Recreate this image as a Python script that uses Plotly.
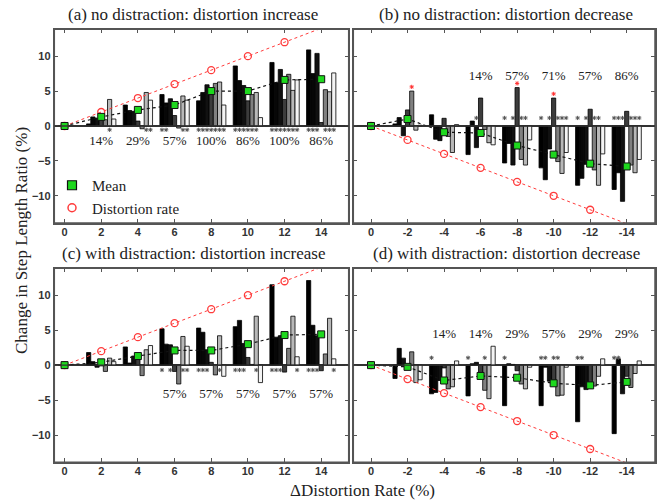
import plotly.graph_objects as go

# ---------------- data ----------------
rates_inc = [0, 2, 4, 6, 8, 10, 12, 14]
rates_dec = [0, -2, -4, -6, -8, -10, -12, -14]
levels_inc = [2, 4, 6, 8, 10, 12, 14]
levels_dec = [-2, -4, -6, -8, -10, -12, -14]
ticks_inc = ['0', '2', '4', '6', '8', '10', '12', '14']
ticks_dec = ['0', '-2', '-4', '-6', '-8', '-10', '-12', '-14']

# per distortion level (rows), per subject 1..7 (columns)
a_bars = [[0.3, 1.3, 1.1, 1.0, 0.9, 3.8, 1.0],
          [3.0, 2.2, 2.1, 0.7, -0.4, 4.8, 3.7],
          [4.5, 3.3, 3.9, 1.5, -0.3, 4.3, 3.7],
          [3.6, 4.8, 5.9, 5.0, 6.1, 6.3, 3.0],
          [8.6, 6.5, 5.8, 3.6, 4.5, 4.8, 1.2],
          [9.1, 6.2, 8.1, 3.8, 7.4, 5.1, 6.6],
          [10.9, 7.5, 10.4, 0.5, 5.2, 4.9, 7.6]]
b_bars = [[0.3, 1.2, -1.4, 2.3, 5.0, -0.6, 0.1],
          [1.6, -1.9, -2.1, 1.1, -1.5, -3.8, 0.2],
          [-4.1, 0.7, -3.1, 4.0, -0.5, -2.4, -2.7],
          [-5.3, -2.5, -5.6, 5.5, -4.8, -5.6, -2.0],
          [-6.0, -7.7, -3.3, 4.0, -5.1, -6.8, -3.8],
          [-8.5, -7.5, -5.5, 2.4, -6.3, -8.5, -4.0],
          [-9.1, -6.7, -10.8, 2.1, -5.6, -6.7, -4.8]]
c_bars = [[1.8, 0.5, -0.3, 0.4, -0.9, 1.0, 0.5],
          [2.6, 0.3, 1.3, 1.6, -1.5, 2.2, 2.8],
          [5.2, 3.0, 2.9, -0.9, -2.7, 4.1, 2.7],
          [5.3, 4.7, 2.2, 0.4, -1.4, 4.2, -1.6],
          [5.5, 6.4, 3.1, 1.1, 0.1, 7.0, -2.5],
          [11.5, 4.0, 4.2, -1.0, 2.4, 7.0, 1.2],
          [12.1, 5.7, 4.2, -0.8, 1.6, 6.7, 0.9]]
d_bars = [[-1.9, 2.4, 1.0, -0.3, 1.9, -2.5, -2.1],
          [-4.1, -3.9, -2.2, -0.4, -3.4, -3.1, 0.6],
          [-4.4, 0.2, 0.4, -1.7, -3.6, -4.8, 2.7],
          [-5.8, 0.2, 0.1, -0.8, -2.7, -3.4, -0.3],
          [-5.8, -0.3, -2.3, -2.6, -4.4, -4.3, -0.3],
          [-8.1, -3.1, -3.5, -3.3, -3.0, -1.6, 0.9],
          [-9.8, 0.9, -4.1, -1.6, -3.2, -1.2, 0.6]]

a_mean = [0, 1.3, 2.3, 3.0, 5.0, 5.0, 6.6, 6.7]
b_mean = [0, 1.0, -0.9, -1.0, -2.8, -4.1, -5.4, -5.8]
c_mean = [0, 0.4, 1.3, 2.1, 2.1, 3.0, 4.3, 4.4]
d_mean = [0, -0.25, -2.2, -1.55, -1.8, -2.6, -2.9, -2.4]

# subjects (1..7) with a significant change, per distortion level
a_sig = [[6], [6, 7], [1, 2, 6, 7], [1, 2, 3, 4, 5, 6, 7], [1, 2, 3, 4, 5, 6],
         [1, 2, 3, 4, 5, 6, 7], [1, 2, 3, 5, 6, 7]]
b_sig = [[], [], [3], [1, 3, 5, 6], [1, 3, 5, 6, 7], [1, 3, 5, 6], [1, 2, 3, 5, 6, 7]]
c_sig = [[], [], [1, 3, 6, 7], [1, 2, 3, 6], [1, 2, 3, 6], [1, 2, 3, 7], [1, 2, 3, 7]]
d_sig = [[], [1], [1, 5], [1], [1, 2, 4, 5], [1, 2], [1, 2]]
# significant in the opposite direction (red)
b_opp = [[5], [], [], [4], [4], [], []]

a_pct = ['14%', '29%', '57%', '100%', '86%', '100%', '86%']
b_pct = ['', '', '14%', '57%', '71%', '57%', '86%']
c_pct = ['', '', '57%', '57%', '57%', '57%', '57%']
d_pct = ['', '14%', '14%', '29%', '57%', '29%', '29%']

titles = ['(a) no distraction: distortion increase',
          '(b) no distraction: distortion decrease',
          '(c) with distraction: distortion increase',
          '(d) with distraction: distortion decrease']

# ---------------- style ----------------
W, H = 660, 501
SERIF = 'Liberation Serif'
SANS = 'Liberation Sans'
subj_colors = ['#000000', '#070707', '#111111', '#3c3c3c', '#808080', '#b8b8b8', '#f4f4f4']
BARGAP = 0.2
GROUP_W = 2 * (1 - BARGAP)
BAR_W = GROUP_W / 7
FRAME = '#555555'


def px_x(p):
    return p / W


def px_y(p):
    return 1 - p / H


panels = [
    dict(bars=a_bars, mean=a_mean, sig=a_sig, opp=None, pct=a_pct, inc=True,
         sig_y=-0.55, pct_y=-2.3, xd=[54.3, 348.7], yd=[29.3, 223]),
    dict(bars=b_bars, mean=b_mean, sig=b_sig, opp=b_opp, pct=b_pct, inc=False,
         sig_y=1.15, pct_y=7.0, xd=[353.3, 655], yd=[29.3, 223]),
    dict(bars=c_bars, mean=c_mean, sig=c_sig, opp=None, pct=c_pct, inc=True,
         sig_y=-0.7, pct_y=-4.3, xd=[54.3, 348.7], yd=[268.3, 462.3]),
    dict(bars=d_bars, mean=d_mean, sig=d_sig, opp=None, pct=d_pct, inc=False,
         sig_y=1.05, pct_y=4.4, xd=[353.3, 655], yd=[268.3, 462.3]),
]

fig = go.Figure()
layout = dict(width=W, height=H, margin=dict(l=0, r=0, t=0, b=0),
              plot_bgcolor='white', paper_bgcolor='white',
              barmode='group', bargap=BARGAP, bargroupgap=0,
              showlegend=True, hovermode=False)
annotations = []
shapes = []

for i, p in enumerate(panels):
    n = '' if i == 0 else str(i + 1)
    xr, yr = 'x' + n, 'y' + n
    levels = levels_inc if p['inc'] else levels_dec
    rates = rates_inc if p['inc'] else rates_dec
    order = range(7) if p['inc'] else range(6, -1, -1)
    for s in order:
        fig.add_trace(go.Bar(
            x=levels, y=[row[s] for row in p['bars']], xaxis=xr, yaxis=yr,
            marker=dict(color=subj_colors[s], line=dict(color='#000', width=0.8)),
            showlegend=False, name='S%d' % (s + 1)))
    # significance markers
    sx, sy, rx, ry = [], [], [], []
    sgn = 1 if p['inc'] else -1
    for g, lev in enumerate(levels):
        for k in p['sig'][g]:
            sx.append(lev + sgn * (k - 4) * BAR_W)
            sy.append(p['sig_y'])
        if p['opp']:
            for k in p['opp'][g]:
                rx.append(lev + sgn * (k - 4) * BAR_W)
                ry.append(p['bars'][g][k - 1] + 0.6)
    fig.add_trace(go.Scatter(x=sx, y=sy, xaxis=xr, yaxis=yr, mode='markers',
                             marker=dict(symbol='asterisk-open', size=3.5, color='#555',
                                         line=dict(color='#555', width=1)),
                             showlegend=False, hoverinfo='skip'))
    if rx:
        fig.add_trace(go.Scatter(x=rx, y=ry, xaxis=xr, yaxis=yr, mode='markers',
                                 marker=dict(symbol='asterisk-open', size=3.5, color='#ff3030',
                                             line=dict(color='#ff3030', width=1)),
                                 showlegend=False, hoverinfo='skip'))
    # percent labels
    fig.add_trace(go.Scatter(x=levels, y=[p['pct_y']] * len(levels), text=p['pct'],
                             xaxis=xr, yaxis=yr, mode='text',
                             textfont=dict(family=SERIF, size=13, color='#222'),
                             showlegend=False, hoverinfo='skip'))
    # distortion rate line
    fig.add_trace(go.Scatter(x=rates, y=rates, xaxis=xr, yaxis=yr, mode='lines+markers',
                             line=dict(color='#ff3b3b', width=1, dash='3px,3px'),
                             marker=dict(symbol='circle-open', size=7, color='#ff3b3b',
                                         line=dict(width=1.3)),
                             cliponaxis=False, showlegend=False))
    # mean line
    fig.add_trace(go.Scatter(x=rates, y=p['mean'], xaxis=xr, yaxis=yr, mode='lines+markers',
                             line=dict(color='#111', width=1.2, dash='dot'),
                             marker=dict(symbol='square', size=7, color='#1ed81e',
                                         line=dict(color='#111', width=1)),
                             cliponaxis=False, showlegend=False))

    xdom = [px_x(p['xd'][0]), px_x(p['xd'][1])]
    ydom = [px_y(p['yd'][1]), px_y(p['yd'][0])]
    axis_common = dict(showline=True, linecolor=FRAME, linewidth=1.5, mirror='ticks',
                       ticks='inside', ticklen=4, tickcolor=FRAME, tickwidth=1,
                       showgrid=False, automargin=False,
                       tickfont=dict(family=SANS, size=11, color='#333', weight='bold'))
    layout['xaxis' + n] = dict(axis_common, domain=xdom, anchor=yr, zeroline=False,
                               range=[-0.56, 15.5] if p['inc'] else [0.97, -15.55],
                               tickvals=rates, ticklabelstandoff=-2,
                               ticktext=ticks_inc if p['inc'] else ticks_dec)
    layout['yaxis' + n] = dict(axis_common, domain=ydom, anchor=xr, range=[-13.9, 13.85],
                               tickvals=[-10, -5, 0, 5, 10],
                               showticklabels=p['inc'],
                               zeroline=True, zerolinecolor='#333', zerolinewidth=1.3)
    # frame and zero line
    shapes.append(dict(type='rect', xref=xr + ' domain', yref=yr + ' domain',
                       x0=0, x1=1, y0=0, y1=1, line=dict(color=FRAME, width=1.5),
                       layer='above'))
    shapes.append(dict(type='line', xref=xr + ' domain', yref=yr,
                       x0=0, x1=1, y0=0, y1=0, line=dict(color='#333', width=1.3),
                       layer='above'))
    annotations.append(dict(text=titles[i], xref='paper', yref='paper',
                            x=px_x(sum(p['xd']) / 2 - 8 if p['inc'] else sum(p['xd']) / 2 + 2),
                            y=px_y(p['yd'][0] - 3),
                            xanchor='center', yanchor='bottom', showarrow=False,
                            font=dict(family=SERIF, size=17, color='#222')))

# legend-only entries
fig.add_trace(go.Scatter(x=[None], y=[None], mode='markers', name='Mean',
                         marker=dict(symbol='square', size=9, color='#1ed81e',
                                     line=dict(color='#111', width=1.2))))
fig.add_trace(go.Scatter(x=[None], y=[None], mode='markers', name='Distortion rate',
                         marker=dict(symbol='circle-open', size=8, color='#ff3b3b',
                                     line=dict(width=1.5))))

annotations.append(dict(text='Change in Step Length Ratio (%)', xref='paper', yref='paper',
                        x=px_x(21), y=px_y(241), textangle=-90, showarrow=False,
                        xanchor='center', yanchor='middle',
                        font=dict(family=SERIF, size=17, color='#222')))
annotations.append(dict(text='ΔDistortion Rate (%)', xref='paper', yref='paper',
                        x=px_x(362), y=px_y(490), showarrow=False,
                        xanchor='center', yanchor='middle',
                        font=dict(family=SERIF, size=17, color='#222')))

layout['annotations'] = annotations
layout['shapes'] = shapes
layout['legend'] = dict(x=px_x(52), y=px_y(169), xanchor='left', yanchor='top',
                        bgcolor='rgba(0,0,0,0)', borderwidth=0, tracegroupgap=0,
                        itemsizing='trace',
                        font=dict(family=SERIF, size=15, color='#222'))
fig.update_layout(**layout)
fig.write_html('out.html', config={'displayModeBar': False, 'staticPlot': True},
               post_script="document.body.style.margin='0px';")
